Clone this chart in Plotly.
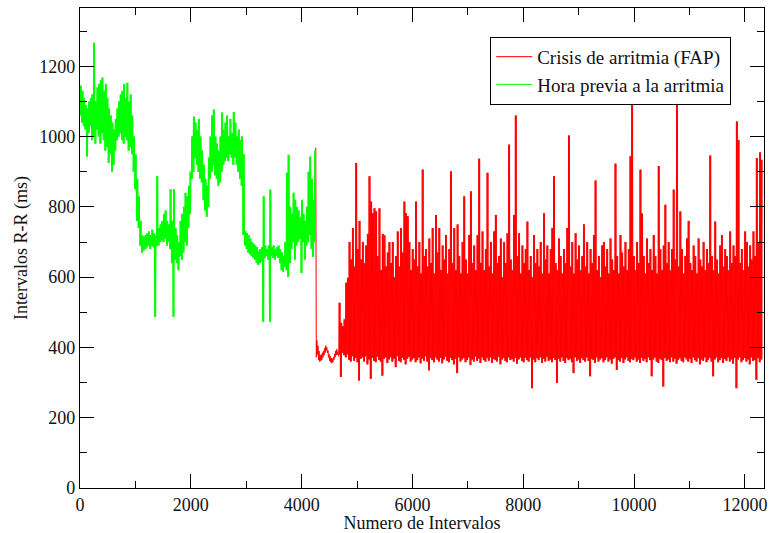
import plotly.graph_objects as go

# ---------------- data ----------------
# Green: "Hora previa a la arritmia" -- per 30-interval bin, lower and upper envelope (ms)
green_bin_start = 0
green_bin_width = 30
green_low = [1060, 1040, 1030, 1020, 943, 1010, 1030, 990, 1000, 980,
             1020, 1000, 980, 1010, 990, 960, 970, 925, 950, 900,
             920, 960, 990, 1000, 1010, 990, 980, 1000, 990, 960,
             970, 950, 900, 850, 760, 740, 690, 670, 675, 680,
             685, 690, 680, 690, 685, 487, 690, 690, 700, 705,
             700, 710, 690, 700, 680, 640, 487, 650, 640, 620,
             660, 650, 670, 700, 690, 740, 780, 880, 900, 940,
             920, 900, 880, 870, 820, 790, 772, 800, 880, 900,
             920, 890, 880, 860, 870, 900, 920, 930, 940, 930,
             950, 940, 920, 940, 920, 900, 880, 860, 720, 690,
             680, 670, 665, 660, 655, 650, 640, 635, 640, 645,
             473, 655, 660, 650, 473, 660, 655, 650, 660, 655,
             640, 620, 615, 630, 620, 601, 640, 680, 700, 650,
             690, 700, 710, 612, 700, 650, 690, 700, 720, 680,
             658, 700]
green_high = [1145, 1130, 1110, 1090, 1080, 1100, 1110, 1120, 1267, 1100,
              1140, 1150, 1160, 1168, 1130, 1150, 1110, 1080, 1060, 1040,
              1020, 1050, 1080, 1100, 1120, 1130, 1150, 1110, 1153, 1100,
              1120, 1060, 1000, 950, 880, 830, 760, 720, 715, 720,
              725, 730, 720, 735, 725, 720, 888, 740, 750, 760,
              780, 790, 760, 750, 850, 760, 850, 740, 720, 700,
              760, 780, 800, 840, 830, 860, 900, 1000, 1057, 1040,
              1020, 1050, 1000, 960, 920, 880, 860, 940, 1000, 1060,
              1077, 1000, 980, 960, 1000, 1068, 1020, 1040, 1060, 1000,
              1050, 1010, 1070, 1040, 1000, 1020, 990, 1000, 950, 730,
              725, 720, 710, 700, 695, 690, 685, 675, 680, 685,
              830, 690, 680, 690, 849, 685, 690, 680, 685, 690,
              680, 670, 660, 700, 897, 948, 800, 780, 840, 820,
              800, 790, 770, 820, 780, 760, 800, 900, 943, 880,
              820, 960]

# Red: "Crisis de arritmia (FAP)" -- onset, then the low-rate phase (every 10 intervals)
red_onset_start = 4255
red_onset_step = 10
red_onset = [968, 372, 420, 380, 405, 365, 390, 360, 378, 362, 380, 365, 385, 372,
             390, 378, 398, 385, 405, 392, 400, 385, 392, 372, 380, 362, 375, 358,
             370, 355, 368, 358, 372, 365, 382, 372, 390, 378, 395, 380, 388, 375]

# Red, from interval 4670 on: per 30-interval bin, lower and upper envelope (ms)
red_bin_start = 4670
red_bin_width = 30
red_low = [380, 316, 385, 378, 372, 380, 365, 360, 375, 362, 370, 358, 306, 368, 372,
           360, 375, 352, 366, 311, 370, 362, 358, 374, 365, 360, 320, 368, 372, 356,
           366, 372, 360, 368, 344, 375, 362, 358, 370, 365, 352, 368, 374, 360, 366,
           370, 358, 364, 372, 355, 368, 362, 375, 360, 335, 370, 364, 358, 372, 366,
           360, 370, 355, 366, 374, 362, 358, 370, 364, 352, 368, 327, 372, 360, 366,
           370, 358, 364, 372, 350, 366, 360, 374, 362, 368, 356, 372, 364, 360, 370,
           362, 372, 356, 368, 364, 360, 374, 352, 366, 370, 362, 358, 372, 364, 368,
           360, 370, 354, 366, 372, 362, 358, 370, 364, 360, 372, 284, 366, 358, 370,
           364, 372, 356, 368, 360, 374, 362, 366, 358, 370, 364, 299, 368, 360, 372,
           362, 356, 370, 364, 368, 358, 327, 372, 362, 366, 356, 370, 364, 360, 372,
           362, 318, 368, 364, 356, 372, 360, 366, 370, 358, 364, 372, 360, 366, 354,
           368, 372, 336, 364, 360, 370, 356, 366, 372, 362, 358, 368, 364, 372, 360,
           366, 356, 370, 362, 368, 358, 372, 364, 318, 366, 372, 360, 356, 368, 364,
           289, 370, 362, 366, 358, 372, 360, 368, 354, 364, 370, 362, 358, 372, 366,
           360, 368, 356, 372, 364, 360, 370, 352, 366, 362, 372, 358, 364, 370, 360,
           318, 366, 372, 358, 364, 370, 356, 368, 362, 372, 360, 366, 354, 370, 284,
           366, 372, 358, 364, 370, 360, 366, 352, 372, 362, 364, 308, 370, 358, 366]
red_high = [527, 470, 460, 480, 584, 598, 700, 650, 740, 630, 925, 680, 760, 650, 700,
            640, 690, 723, 887, 815, 782, 796, 787, 660, 796, 620, 723, 719, 630, 670,
            700, 640, 700, 600, 660, 730, 630, 740, 670, 815, 782, 773, 700, 620, 680,
            650, 815, 630, 700, 610, 906, 660, 680, 630, 710, 640, 740, 610, 777, 670,
            740, 620, 690, 650, 720, 610, 680, 901, 640, 740, 620, 750, 660, 610, 700,
            830, 650, 610, 720, 844, 640, 690, 620, 720, 937, 640, 730, 620, 680, 897,
            630, 700, 610, 730, 777, 640, 660, 710, 600, 700, 640, 725, 977, 650, 620,
            777, 1060, 660, 725, 610, 690, 640, 680, 758, 620, 660, 600, 720, 640, 680,
            630, 700, 610, 782, 650, 690, 610, 680, 740, 887, 640, 620, 710, 660, 610,
            680, 640, 740, 1003, 630, 700, 610, 725, 650, 690, 620, 660, 750, 630, 700,
            610, 680, 640, 720, 875, 620, 660, 600, 690, 700, 630, 680, 610, 710, 650,
            620, 923, 660, 610, 720, 670, 630, 700, 620, 680, 944, 1103, 660, 620, 700,
            640, 906, 781, 660, 610, 710, 640, 680, 620, 720, 660, 610, 916, 680, 620,
            690, 806, 640, 700, 620, 680, 849, 650, 1110, 630, 787, 680, 610, 660, 710,
            760, 640, 620, 690, 660, 610, 710, 650, 630, 700, 620, 680, 640, 946, 660,
            620, 758, 650, 610, 690, 720, 630, 680, 660, 620, 730, 640, 690, 660, 1043,
            990, 640, 680, 620, 730, 700, 630, 690, 650, 730, 660, 939, 700, 955, 934]

x_ticks = [0, 2000, 4000, 6000, 8000, 10000, 12000]
x_labels = ["0", "2000", "4000", "6000", "8000", "10000", "12000"]
y_ticks = [0, 200, 400, 600, 800, 1000, 1200]
y_labels = ["0", "200", "400", "600", "800", "1000", "1200"]


def envelope_series(start, width, lows, highs):
    """Each bin is traced as two low->high sweeps so the band renders as dense as the original."""
    xs, ys = [], []
    q = width / 4
    for i, (lo, hi) in enumerate(zip(lows, highs)):
        x0 = start + width * i
        xs += [x0, x0 + q, x0 + 2 * q, x0 + 3 * q]
        ys += [lo, hi, lo, hi]
    return xs, ys


gx, gy = envelope_series(green_bin_start, green_bin_width, green_low, green_high)
rx = [red_onset_start + red_onset_step * i for i in range(len(red_onset))]
ry = list(red_onset)
bx, by = envelope_series(red_bin_start, red_bin_width, red_low, red_high)
rx += bx
ry += by

FONT = "Liberation Serif, Times New Roman, serif"

fig = go.Figure()
fig.add_trace(go.Scatter(x=rx, y=ry, mode="lines", name="Crisis de arritmia (FAP)",
                         line=dict(color="#ff0000", width=1, simplify=False)))
fig.add_trace(go.Scatter(x=gx, y=gy, mode="lines", name="Hora previa a la arritmia",
                         line=dict(color="#00ff00", width=1, simplify=False)))

axis_common = dict(showline=True, linecolor="black", linewidth=1.3, mirror="ticks",
                   ticks="inside", ticklen=14, tickwidth=1.3, tickcolor="black",
                   showgrid=False, zeroline=False, ticklabeloverflow="allow",
                   tickfont=dict(family=FONT, size=18, color="#111"))

fig.update_layout(
    width=770, height=533,
    margin=dict(l=80, r=3, t=8, b=45),
    paper_bgcolor="white", plot_bgcolor="white",
    showlegend=True,
    legend=dict(x=0.5997, y=0.94, xanchor="left", yanchor="top",
                bgcolor="white", bordercolor="black", borderwidth=1,
                font=dict(family=FONT, size=19, color="#111"),
                tracegroupgap=0, itemwidth=36),
    xaxis=dict(range=[0, 12345], tickvals=x_ticks, ticktext=x_labels,
               minor=dict(dtick=1000, tick0=0, ticks="inside", ticklen=7,
                          tickcolor="black", tickwidth=1.3),
               title=dict(text="Numero de Intervalos", standoff=2,
                          font=dict(family=FONT, size=18, color="#111")),
               **axis_common),
    yaxis=dict(range=[0, 1366], tickvals=y_ticks, ticktext=y_labels,
               minor=dict(dtick=100, tick0=0, ticks="inside", ticklen=7,
                          tickcolor="black", tickwidth=1.3),
               title=dict(text="Intervalos R-R (ms)", standoff=6,
                          font=dict(family=FONT, size=18, color="#111")),
               **axis_common),
)

fig.write_html("out.html")
